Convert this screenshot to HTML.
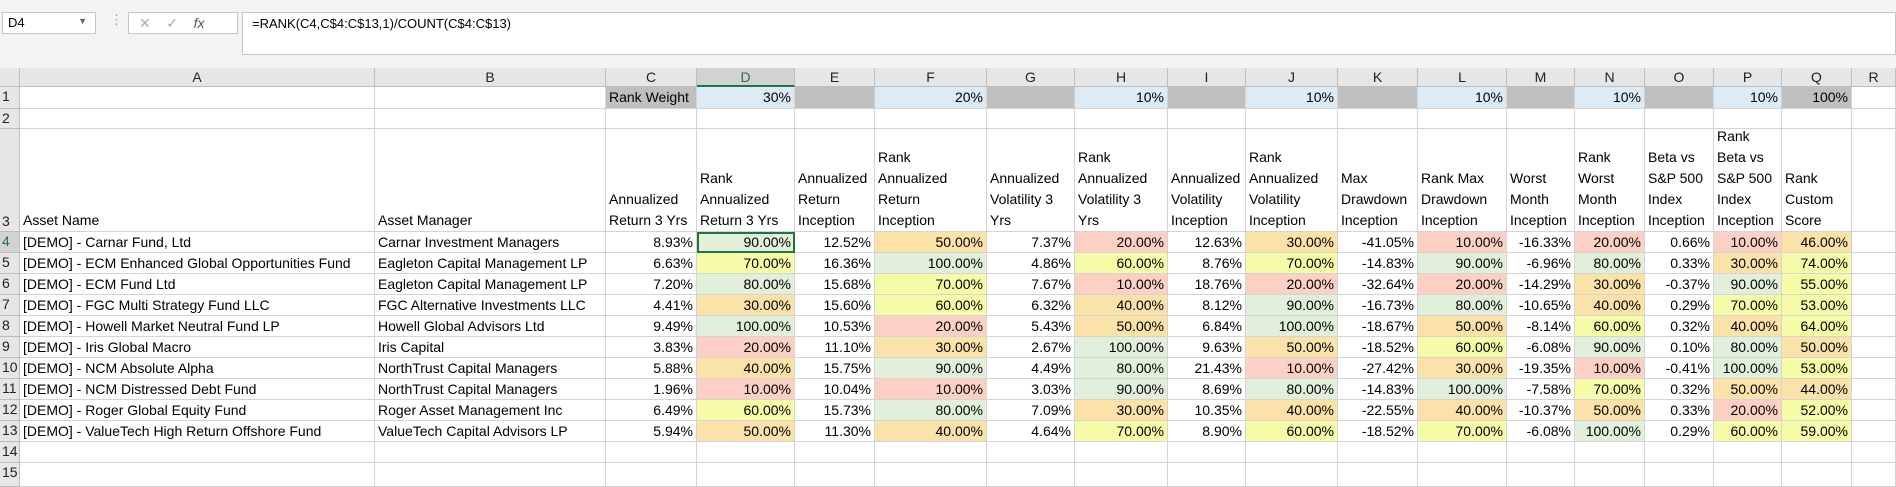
<!DOCTYPE html>
<html><head><meta charset="utf-8">
<style>
body{margin:0;width:1896px;height:487px;overflow:hidden;background:#fff;font-family:"Liberation Sans",sans-serif;font-size:14px;color:#000;position:relative}
.top{position:absolute;left:0;top:0;width:1896px;height:68px;background:#f3f3f3}
.box{position:absolute;background:#fff;border:1px solid #c6c6c6;box-sizing:border-box}
.c{position:absolute;box-sizing:border-box;border-right:1px solid #d4d4d4;border-bottom:1px solid #d4d4d4;padding:0 3px;white-space:nowrap;overflow:hidden;line-height:21px}
.h{background:#e6e6e6;text-align:center;color:#222;border-color:#bdbdbd;line-height:19px}
.r{text-align:right}
.hd{display:flex;flex-direction:column;justify-content:flex-end;white-space:pre-line;line-height:21px}
</style></head><body>
<div class="top"></div>
<div class="box" style="left:2px;top:12px;width:94px;height:22px;padding:2px 5px;font-size:13px">D4<span style="position:absolute;right:8px;top:3px;font-size:9px;color:#666">▼</span></div>
<div style="position:absolute;left:110px;top:12px;font-size:13px;color:#999">⋮</div>
<div class="box" style="left:128px;top:12px;width:110px;height:22px;color:#aaa;padding:2px 10px;font-size:14px">✕&nbsp;&nbsp;&nbsp;&nbsp;✓&nbsp;&nbsp;&nbsp;&nbsp;<i style="color:#555">fx</i></div>
<div class="box" style="left:242px;top:12px;width:1654px;height:43px;padding:3px 9px;font-size:13px">=RANK(C4,C$4:C$13,1)/COUNT(C$4:C$13)</div>
<div id="grid"></div>
<script>
const colEdges=[20,375,606,697,795,875,987,1075,1168,1246,1338,1418,1507,1575,1645,1714,1782,1852,1896];
const colLetters=["A","B","C","D","E","F","G","H","I","J","K","L","M","N","O","P","Q","R"];
const rowEdges=[87,109,129,232,253,274,295,316,337,358,379,400,421,442,463,487];
const weights=["","","Rank Weight","30%","","20%","","10%","","10%","","10%","","10%","","10%","100%",""];
const headers=["Asset Name","Asset Manager","Annualized\nReturn 3 Yrs","Rank\nAnnualized\nReturn 3 Yrs","Annualized\nReturn\nInception","Rank\nAnnualized\nReturn\nInception","Annualized\nVolatility 3\nYrs","Rank\nAnnualized\nVolatility 3\nYrs","Annualized\nVolatility\nInception","Rank\nAnnualized\nVolatility\nInception","Max\nDrawdown\nInception","Rank Max\nDrawdown\nInception","Worst\nMonth\nInception","Rank\nWorst\nMonth\nInception","Beta vs\nS&P 500\nIndex\nInception","Rank\nBeta vs\nS&P 500\nIndex\nInception","Rank\nCustom\nScore",""];
const names=["[DEMO] - Carnar Fund, Ltd","[DEMO] - ECM Enhanced Global Opportunities Fund","[DEMO] - ECM Fund Ltd","[DEMO] - FGC Multi Strategy Fund LLC","[DEMO] - Howell Market Neutral Fund LP","[DEMO] - Iris Global Macro","[DEMO] - NCM Absolute Alpha","[DEMO] - NCM Distressed Debt Fund","[DEMO] - Roger Global Equity Fund","[DEMO] - ValueTech High Return Offshore Fund"];
const managers=["Carnar Investment Managers","Eagleton Capital Management LP","Eagleton Capital Management LP","FGC Alternative Investments LLC","Howell Global Advisors Ltd","Iris Capital","NorthTrust Capital Managers","NorthTrust Capital Managers","Roger Asset Management Inc","ValueTech Capital Advisors LP"];
const values=[
[8.93,90,12.52,50,7.37,20,12.63,30,-41.05,10,-16.33,20,0.66,10,46],
[6.63,70,16.36,100,4.86,60,8.76,70,-14.83,90,-6.96,80,0.33,30,74],
[7.20,80,15.68,70,7.67,10,18.76,20,-32.64,20,-14.29,30,-0.37,90,55],
[4.41,30,15.60,60,6.32,40,8.12,90,-16.73,80,-10.65,40,0.29,70,53],
[9.49,100,10.53,20,5.43,50,6.84,100,-18.67,50,-8.14,60,0.32,40,64],
[3.83,20,11.10,30,2.67,100,9.63,50,-18.52,60,-6.08,90,0.10,80,50],
[5.88,40,15.75,90,4.49,80,21.43,10,-27.42,30,-19.35,10,-0.41,100,53],
[1.96,10,10.04,10,3.03,90,8.69,80,-14.83,100,-7.58,70,0.32,50,44],
[6.49,60,15.73,80,7.09,30,10.35,40,-22.55,40,-10.37,50,0.33,20,52],
[5.94,50,11.30,40,4.64,70,8.90,60,-18.52,70,-6.08,100,0.29,60,59]];
const g=document.getElementById('grid');
function cell(x,y,w,h,cls,txt,name,bg){
  const d=document.createElement('div');
  d.className='c '+cls;
  d.style.left=x+'px';d.style.top=y+'px';d.style.width=w+'px';d.style.height=h+'px';
  if(bg)d.style.background=bg;
  d.textContent=txt;
  
  
  g.appendChild(d);return d;
}
function rankColor(v){return v<=20?'#fcd0c4':v<=50?'#fbe2a9':v<80?'#f6fba8':'#e2efda';}
let corner=cell(0,68,20,19,'h','','select-all-corner');
for(let i=0;i<colLetters.length;i++){
  const d=cell(colEdges[i],68,colEdges[i+1]-colEdges[i],19,'h',colLetters[i],'column-header-'+colLetters[i].toLowerCase());
  if(i===3){d.style.background='#d2d2d2';d.style.borderBottom='2px solid #217346';d.style.color='#217346';}
}
for(let r=0;r<rowEdges.length-1;r++){
  const y=rowEdges[r],h=rowEdges[r+1]-y;
  const rh=cell(0,y,20,h,'h',String(r+1),'row-header-'+(r+1));
  rh.style.textAlign='left';rh.style.padding='0 2px';
  if(r===3){rh.style.background='#d2d2d2';rh.style.color='#217346';}
  if(r===2){rh.style.display='flex';rh.style.alignItems='flex-end';}
  for(let c=0;c<colLetters.length;c++){
    const x=colEdges[c],w=colEdges[c+1]-x;let txt='',cls='',bg=null;
    const nm='cell-'+colLetters[c].toLowerCase()+(r+1);
    if(r===0){txt=weights[c];if(c>=2&&c<=16){bg=(c===2||c===16||c%2===0)?'#bfbfbf':'#ddebf7';}cls=c>2?'r':'';}
    else if(r===2){txt=headers[c];cls='hd';}
    else if(r>=3&&r<=12){const i=r-3;
      if(c===0)txt=names[i];else if(c===1)txt=managers[i];
      else if(c<17){const v=values[i][c-2];cls='r';
        if(c%2===1||c===16){txt=v.toFixed(2)+'%';bg=rankColor(v);}else txt=v.toFixed(2)+'%';}
    }
    const d=cell(x,y,w,h,cls,txt,nm,bg);
    if(r===3&&c===3){d.style.outline='2px solid #217346';d.style.outlineOffset='-2px';d.style.zIndex=2;}
  }
}
</script>
</body></html>
